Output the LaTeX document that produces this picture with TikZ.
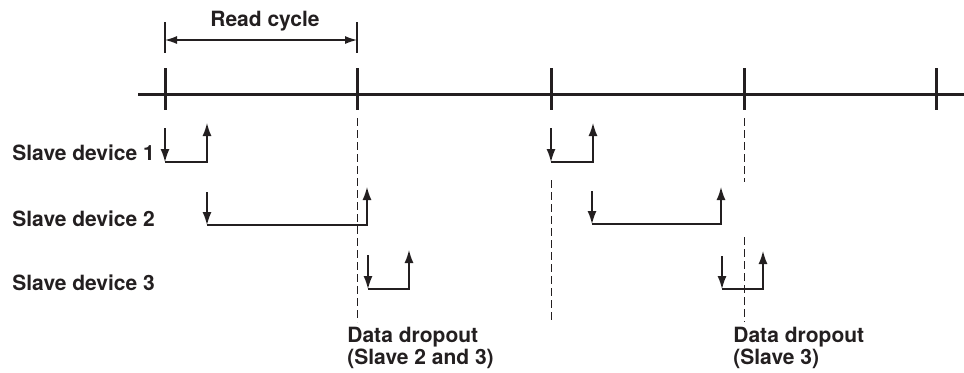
\documentclass[tikz,border=0pt]{standalone}
\usepackage{fontspec}
\setmainfont{TeX Gyre Heros}
\usetikzlibrary{arrows.meta}
\definecolor{ink}{HTML}{231F20}
\begin{document}
\begin{tikzpicture}[x=0.5pt,y=-0.5pt, ink,
    lbl/.style={font=\fontsize{10.5}{11}\selectfont\bfseries, inner sep=0pt},
    sig/.style={line width=0.7pt, -{Latex[length=6.5pt,width=4.5pt]}},
    drop/.style={line width=0.5pt, dash pattern=on 4pt off 2pt}]
    \useasboundingbox (0,0) rectangle (964,372);
    % Read cycle
    \draw[line width=0.6pt] (165,22) -- (165,53);
    \draw[line width=0.6pt] (357,22) -- (357,53);
    \draw[line width=0.6pt, {Latex[length=6pt,width=4pt]}-{Latex[length=6pt,width=4pt]}] (165,40) -- (357,40);
    \node[lbl] (rcyc) at (265,21) {Read cycle};
    % Time axis
    \draw[line width=1.5pt] (138,94) -- (964,94);
    \foreach \x in {165,357,551,744,936}
        \draw[line width=1.5pt] (\x,68) -- (\x,110);
    % Slave labels
    \node[lbl, anchor=west] (s1) at (12,153) {Slave device 1};
    \node[lbl, anchor=west] (s2) at (12,219) {Slave device 2};
    \node[lbl, anchor=west] (s3) at (12,283) {Slave device 3};
    % Dropout markers
    \draw[drop] (357,118) -- (357,322);
    \draw[drop] (551,180) -- (551,322);
    \draw[drop] (744,118) -- (744,182);
    \draw[drop] (744,237) -- (744,322);
    % First cycle
    \draw[sig] (165,128) -- (165,162);
    \draw[sig] (165,162) -- (207,162) -- (207,123);
    \draw[sig] (207,192) -- (207,225);
    \draw[sig] (207,225) -- (367,225) -- (367,187);
    \draw[sig] (368,255) -- (368,289);
    \draw[sig] (368,289) -- (409,289) -- (409,250);
    % Second cycle
    \draw[sig] (551,128) -- (551,162);
    \draw[sig] (551,162) -- (593,162) -- (593,123);
    \draw[sig] (592,191) -- (592,224);
    \draw[sig] (592,224) -- (721,224) -- (721,187);
    \draw[sig] (722,256) -- (722,289);
    \draw[sig] (722,289) -- (763,289) -- (763,251);
    % Dropout labels
    \node[lbl, anchor=north west, align=left] (dd1) at (347,327) {Data dropout\\(Slave 2 and 3)};
    \node[lbl, anchor=north west, align=left] (dd2) at (733,327) {Data dropout\\(Slave 3)};
\end{tikzpicture}
\end{document}
